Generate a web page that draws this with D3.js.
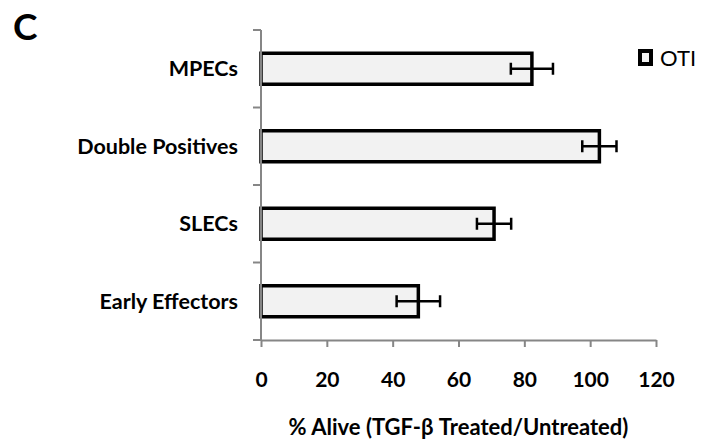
<!DOCTYPE html>
<html>
<head>
  <meta charset="utf-8" />
  <script src="https://d3js.org/d3.v7.min.js"></script>
  <style>
    body{margin:0;background:#fff;}
    text{font-family:Lato, "Open Sans", sans-serif;}
  </style>
</head>
<body>
<script>
// categories top to bottom
var categories = ["MPECs", "Double Positives", "SLECs", "Early Effectors"];
var values = [82.3, 102.8, 70.8, 47.8];
var errors = [6.4, 5.2, 5.2, 6.6];
var xTicks = [0, 20, 40, 60, 80, 100, 120];
var seriesName = "OTI";

var W = 702, H = 441;
var m = {left:261, right:46, top:30, bottom:101};

var svg = d3.select('body').append('svg')
  .attr('width', W).attr('height', H);

var x = d3.scaleLinear().domain([0,120]).range([m.left, W - m.right]);
var y = d3.scaleBand().domain(categories).range([m.top, H - m.bottom]).paddingInner(0.6).paddingOuter(0.3);
var yb = d3.scaleBand().domain(categories).range([m.top, H - m.bottom]);

// panel letter
svg.append('text').attr('x', 13).attr('y', 40)
  .style('font-size','37px').style('font-weight','bold').text('C');

//bars
svg.selectAll('.bar').data(categories).enter().append('rect')
  .attr('x', x(0))
  .attr('y', function(d){return y(d);})
  .attr('width', function(d,i){return x(values[i]) - x(0);})
  .attr('height', y.bandwidth())
  .attr('fill','#f2f2f2').attr('stroke','#000').attr('stroke-width',3.5);

//error bars
var eb = svg.selectAll('.err').data(categories).enter().append('g');
eb.append('line')
  .attr('x1', function(d,i){return x(values[i]-errors[i]);})
  .attr('x2', function(d,i){return x(values[i]+errors[i]);})
  .attr('y1', function(d){return y(d)+y.bandwidth()/2;})
  .attr('y2', function(d){return y(d)+y.bandwidth()/2;})
  .attr('stroke','#000').attr('stroke-width',2.5);
[-1,1].forEach(function(s){
  eb.append('line')
    .attr('x1', function(d,i){return x(values[i]+s*errors[i]);})
    .attr('x2', function(d,i){return x(values[i]+s*errors[i]);})
    .attr('y1', function(d){return y(d)+y.bandwidth()/2-6;})
    .attr('y2', function(d){return y(d)+y.bandwidth()/2+6;})
    .attr('stroke','#000').attr('stroke-width',2.5);
});

//y axis with ticks at band boundaries
var axisColor = '#868686';
svg.append('line').attr('x1', x(0)).attr('x2', x(0))
  .attr('y1', m.top).attr('y2', H - m.bottom)
  .attr('stroke', axisColor).attr('stroke-width', 2);
var bounds = categories.map(function(d){return yb(d);}).concat([H - m.bottom]);
svg.selectAll('.ytick').data(bounds).enter().append('line')
  .attr('x1', x(0) - 8).attr('x2', x(0))
  .attr('y1', function(d){return d;}).attr('y2', function(d){return d;})
  .attr('stroke', axisColor).attr('stroke-width', 2);
svg.selectAll('.ylab').data(categories).enter().append('text')
  .attr('x', 238)
  .attr('y', function(d){return yb(d) + yb.bandwidth()/2;})
  .attr('dy','0.35em').attr('text-anchor','end')
  .style('font-size','21.5px').style('font-weight','bold')
  .text(function(d){return d;});

//x axis
var xAxis = svg.append('g').attr('transform','translate(0,' + (H - m.bottom) + ')')
  .call(d3.axisBottom(x).tickValues(xTicks).tickSize(7).tickSizeOuter(0).tickPadding(25));
xAxis.select('.domain').attr('stroke', axisColor).attr('stroke-width', 2);
xAxis.selectAll('.tick line').attr('stroke', axisColor).attr('stroke-width', 2);
xAxis.selectAll('.tick text').attr('fill','#000')
  .style('font-size','21px').style('font-weight','bold').style('font-family','Lato, sans-serif');

svg.append('text').attr('x', (x(0)+x(120))/2).attr('y', 427).attr('dy','0.35em')
  .attr('text-anchor','middle')
  .style('font-size','22px').style('font-weight','bold')
  .text('% Alive (TGF-\u03B2 Treated/Untreated)');

//legend
var lg = svg.append('g').attr('transform','translate(638,49)');
lg.append('rect').attr('x',2).attr('y',2).attr('width',11).attr('height',13)
  .attr('fill','#f2f2f2').attr('stroke','#000').attr('stroke-width',4);
lg.append('text').attr('x',22).attr('y',9).attr('dy','0.35em')
  .style('font-size','22px').text(seriesName);
</script>
</body>
</html>
